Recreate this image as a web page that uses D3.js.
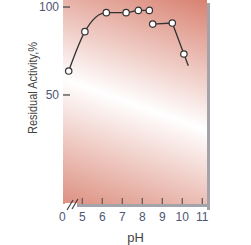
<!DOCTYPE html>
<html><head><meta charset="utf-8">
<script src="https://cdn.jsdelivr.net/npm/d3@7"></script>
<style>html,body{margin:0;padding:0;background:#fff;}svg{display:block;}</style>
</head><body>
<svg id="c" width="251" height="245"></svg>
<script>
// ---- data ----
const pH1 = [4.32, 5.13, 6.2, 7.19, 7.8, 8.35];
const act1 = [63.6, 86.0, 96.8, 96.8, 98.1, 98.1];
const pH2 = [8.52, 9.5, 10.08];
const act2 = [90.3, 90.9, 73.3];
const pH2End = 10.3, act2End = 66.6; // line continues past last marker
const xTickVals = [4, 5, 6, 7, 8, 9, 10, 11];
const xTickLabels = ["0", "5", "6", "7", "8", "9", "10", "11"];
const yTickVals = [50, 100];

const svg = d3.select("#c");
const L = 63, R = 207, T = 0, B = 204;
const x = d3.scaleLinear().domain([4.035, 11.235]).range([L, R]);
const y = d3.scaleLinear().domain([-12, 104]).range([B, T]);
const FONT = "Liberation Sans, Arial, sans-serif";

// gradient
const defs = svg.append("defs");
const g = defs.append("linearGradient").attr("id","bg").attr("gradientUnits","userSpaceOnUse")
  .attr("x1",178).attr("y1",-12).attr("x2",94).attr("y2",222);
g.append("stop").attr("offset",0).attr("stop-color","#d8806f");
g.append("stop").attr("offset",0.5).attr("stop-color","#ffffff");
g.append("stop").attr("offset",1).attr("stop-color","#db8a7a");

// shadow
svg.append("rect").attr("x",R).attr("y",T+3).attr("width",3).attr("height",B-T+3).attr("fill","#a3a3ab");
svg.append("rect").attr("x",L+14).attr("y",B).attr("width",R-L-11).attr("height",3).attr("fill","#a3a3ab");
// plot bg
svg.append("rect").attr("x",L).attr("y",T).attr("width",R-L).attr("height",B-T).attr("fill","url(#bg)");

// y ticks
yTickVals.forEach(v=>{
  svg.append("line").attr("x1",L).attr("x2",L+7).attr("y1",y(v)).attr("y2",y(v))
    .attr("stroke","#4a4a4a").attr("stroke-width",1.3);
  svg.append("text").attr("x",L-4).attr("y",y(v)).attr("dy","0.35em").attr("text-anchor","end")
    .attr("font-family",FONT).attr("font-size",12).attr("fill","#4f5673").text(v);
});
// x ticks
xTickVals.forEach((v,i)=>{
  if (i>0) svg.append("line").attr("x1",x(v)).attr("x2",x(v)).attr("y1",B-6).attr("y2",B)
    .attr("stroke","#6a5a5a").attr("stroke-width",1.3);
  svg.append("text").attr("x",x(v)).attr("y",B+17).attr("text-anchor","middle")
    .attr("font-family",FONT).attr("font-size",12).attr("fill","#4f5673").text(xTickLabels[i]);
});
// break marks
svg.append("rect").attr("x",L+2).attr("y",B-1).attr("width",12).attr("height",6).attr("fill","#fff");
[[67,210,73,200],[72,209,78,199]].forEach(d=>{
  svg.append("line").attr("x1",d[0]).attr("y1",d[1]).attr("x2",d[2]).attr("y2",d[3])
    .attr("stroke","#3a3a3a").attr("stroke-width",1.1);
});

// axis titles
svg.append("text").attr("x",135.5).attr("y",242).attr("text-anchor","middle")
  .attr("font-family",FONT).attr("font-size",13).attr("fill","#444").text("pH");
svg.append("text").attr("transform","translate(37,88) rotate(-90)").attr("text-anchor","middle")
  .attr("font-family",FONT).attr("font-size",12.5).attr("fill","#444")
  .attr("textLength",92).attr("lengthAdjust","spacingAndGlyphs").text("Residual Activity,%");

// lines
const s1 = pH1.map((p,i)=>[p,act1[i]]);
const s2 = pH2.map((p,i)=>[p,act2[i]]);
svg.append("path").attr("d", d3.line().x(d=>x(d[0])).y(d=>y(d[1])).curve(d3.curveMonotoneX)(s1))
  .attr("fill","none").attr("stroke","#333").attr("stroke-width",1.3);
svg.append("path").attr("d", d3.line().x(d=>x(d[0])).y(d=>y(d[1]))(s2.concat([[pH2End,act2End]])))
  .attr("fill","none").attr("stroke","#333").attr("stroke-width",1.3);
svg.selectAll("circle.m").data(s1.concat(s2)).enter().append("circle")
  .attr("cx",d=>x(d[0])).attr("cy",d=>y(d[1])).attr("r",3.2)
  .attr("fill","#fff").attr("stroke","#333").attr("stroke-width",1.2);
</script>
</body></html>
